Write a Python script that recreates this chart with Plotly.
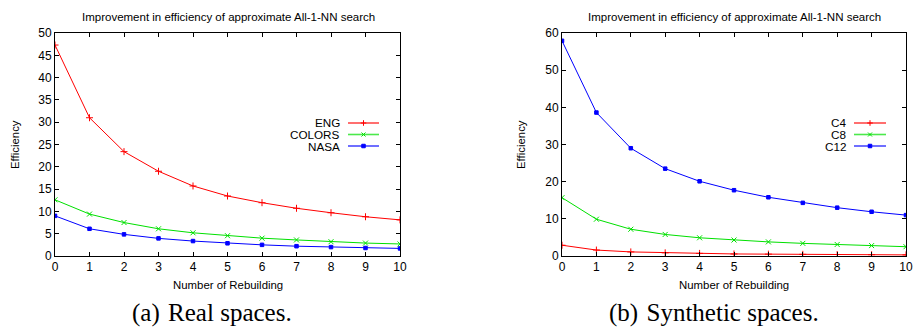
import plotly.graph_objects as go

W, H = 913, 327
rebuild = list(range(11))

eng = [47.3, 31.0, 23.4, 19.0, 15.7, 13.45, 11.95, 10.7, 9.7, 8.8, 8.1]
colors_ = [12.6, 9.4, 7.5, 6.1, 5.2, 4.55, 4.0, 3.6, 3.2, 2.9, 2.7]
nasa = [9.0, 6.1, 4.85, 3.95, 3.35, 2.85, 2.5, 2.2, 2.0, 1.8, 1.7]

c4 = [2.9, 1.6, 1.1, 0.85, 0.7, 0.55, 0.5, 0.45, 0.4, 0.35, 0.3]
c8 = [15.7, 9.9, 7.2, 5.8, 4.9, 4.3, 3.8, 3.4, 3.1, 2.8, 2.5]
c12 = [57.9, 38.6, 29.0, 23.5, 20.1, 17.7, 15.8, 14.3, 13.0, 11.9, 11.0]

left_names = ["ENG", "COLORS", "NASA"]
right_names = ["C4", "C8", "C12"]
title_text = "Improvement in efficiency of approximate All-1-NN search"
xlabel = "Number of Rebuilding"
ylabel = "Efficiency"
captions = ["(a)\u2004Real spaces.", "(b)\u2004Synthetic spaces."]

RED, GREEN, BLUE = "#ff0000", "#00e000", "#0000ff"
cols = [RED, GREEN, BLUE]
syms = ["cross-thin-open", "x-thin-open", "square"]
msz = [5, 5, 3.5]

FONT = "Liberation Sans, Arial, sans-serif"

def px(x):
    return x / W

def py(y):
    return 1 - y / H

fig = go.Figure()

def add_series(xa, ya, ys, names):
    for y, n, c, s, m in zip(ys, names, cols, syms, msz):
        fig.add_trace(go.Scatter(
            x=rebuild, y=y, name=n, xaxis=xa, yaxis=ya, mode="lines+markers",
            line=dict(color=c, width=1),
            marker=dict(symbol=s, size=m, color=c, line=dict(color=c, width=1)),
            showlegend=False))

add_series("x", "y", [eng, colors_, nasa], left_names)
add_series("x2", "y2", [c4, c8, c12], right_names)

ax_common = dict(showline=True, linecolor="black", linewidth=1, mirror="ticks",
                 ticks="inside", ticklen=4, tickcolor="black", showgrid=False,
                 zeroline=False, automargin=False,
                 tickfont=dict(family=FONT, size=12, color="black"))

top, bottom = 33, 256
fig.update_layout(
    width=W, height=H, margin=dict(l=0, r=0, t=0, b=0, autoexpand=False),
    paper_bgcolor="white", plot_bgcolor="rgba(0,0,0,0)",
    xaxis=dict(domain=[px(55), px(400)], range=[0, 10], dtick=1, anchor="y", **ax_common),
    yaxis=dict(domain=[py(bottom), py(top)], range=[0, 50], dtick=5, anchor="x", **ax_common),
    xaxis2=dict(domain=[px(562), px(906)], range=[0, 10], dtick=1, anchor="y2", **ax_common),
    yaxis2=dict(domain=[py(bottom), py(top)], range=[0, 60], dtick=10, anchor="x2", **ax_common),
    xaxis3=dict(domain=[0, 1], range=[0, W], visible=False, anchor="y3", fixedrange=True),
    yaxis3=dict(domain=[0, 1], range=[H, 0], visible=False, anchor="x3", fixedrange=True),
)

# legends (gnuplot-style: label right-aligned, sample to the right)
leg_rows = [123, 134.5, 146]
for names, text_right, l0, l1 in [(left_names, 341, 348, 379), (right_names, 847, 854, 886)]:
    for n, c, s, m, yy in zip(names, cols, syms, msz, leg_rows):
        fig.add_annotation(x=px(text_right), y=py(yy), xref="paper", yref="paper",
                           text=n, showarrow=False, xanchor="right", yanchor="middle",
                           borderpad=0,
                           font=dict(family=FONT, size=11.7, color="black"))
        fig.add_trace(go.Scatter(x=[l0, l1], y=[yy, yy], xaxis="x3", yaxis="y3",
                                 mode="lines", line=dict(color=c, width=1.6),
                                 opacity=0.7, showlegend=False, hoverinfo="skip"))
        fig.add_trace(go.Scatter(x=[(l0 + l1) / 2], y=[yy], xaxis="x3", yaxis="y3",
                                 mode="markers",
                                 marker=dict(symbol=s, size=4 if m > 4 else m, color=c,
                                             line=dict(color=c, width=1)),
                                 showlegend=False, hoverinfo="skip"))

for cx, ylx in [(228, 15), (734, 521)]:
    fig.add_annotation(x=px(cx), y=py(17), xref="paper", yref="paper", text=title_text,
                       showarrow=False, xanchor="center", yanchor="middle",
                       font=dict(family=FONT, size=11.5, color="black"))
    fig.add_annotation(x=px(cx), y=py(285), xref="paper", yref="paper", text=xlabel,
                       showarrow=False, xanchor="center", yanchor="middle",
                       font=dict(family=FONT, size=11.4, color="black"))
    fig.add_annotation(x=px(ylx), y=py(145), xref="paper", yref="paper", text=ylabel,
                       showarrow=False, textangle=-90, xanchor="center", yanchor="middle",
                       font=dict(family=FONT, size=11.4, color="black"))

for cap, cap_x in zip(captions, [212, 714]):
    fig.add_annotation(x=px(cap_x), y=py(313), xref="paper", yref="paper", text=cap,
                       showarrow=False, xanchor="center", yanchor="middle",
                       font=dict(family="Liberation Serif, Times New Roman, serif", size=25, color="black"))

fig.write_html("out.html", config={"displayModeBar": False},
               post_script="document.body.style.margin='0';document.body.style.padding='0';"
                           "document.body.style.overflow='hidden';")
